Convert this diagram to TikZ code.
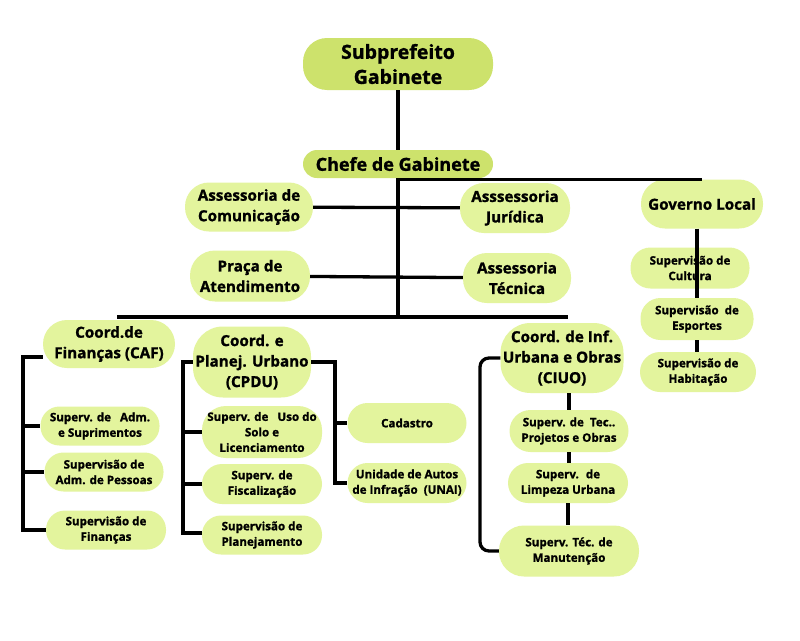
\documentclass[tikz,border=0pt]{standalone}
\usepackage{fontspec}
\setmainfont{Open Sans}[BoldFeatures={FakeBold=1.2}]
\begin{document}
\begin{tikzpicture}[x=1pt,y=-1pt,
  every node/.style={font=\bfseries},
  box/.style={fill=lightg, rounded corners=19pt, align=center, inner sep=0pt, text=black},
  dbox/.style={box, fill=darkg},
  big/.style={font=\bfseries\fontsize{19.5}{25}\selectfont},
  mid/.style={font=\bfseries\fontsize{15.2}{20.5}\selectfont},
  sml/.style={font=\bfseries\fontsize{11.6}{15.5}\selectfont},
  con/.style={line width=3.3pt, black}]
\definecolor{lightg}{RGB}{227,244,157}
\definecolor{darkg}{RGB}{205,226,108}
\useasboundingbox[fill=white] (0,0) rectangle (800,640);

% top
\node[dbox, big, minimum width=190pt, minimum height=52pt, rounded corners=24pt] (sub) at (398,64) {Subprefeito\\Gabinete};
\node[dbox, font=\bfseries\fontsize{18}{22}\selectfont, minimum width=190pt, minimum height=28pt, rounded corners=14pt] (chefe) at (398,164) {Chefe de Gabinete};

\node[box, mid, minimum width=128pt, minimum height=49pt, rounded corners=24pt] (acom) at (249,207) {Assessoria de\\Comunicação};
\node[box, mid, minimum width=110pt, minimum height=50pt, rounded corners=24pt] (ajur) at (515,208) {Asssessoria\\Jurídica};
\node[box, mid, minimum width=120pt, minimum height=51pt, rounded corners=25pt] (praca) at (250,276) {Praça de\\Atendimento};
\node[box, mid, minimum width=108pt, minimum height=50pt, rounded corners=24pt] (atec) at (517,278) {Assessoria\\Técnica};

\node[box, mid, minimum width=122pt, minimum height=49pt, rounded corners=24pt] (gov) at (702,204) {Governo Local};
\node[box, sml, minimum width=119pt, minimum height=41pt, rounded corners=20pt] (cult) at (690,268) {Supervisão de\\Cultura};
\node[box, sml, minimum width=113pt, minimum height=42pt, rounded corners=20pt] (esp) at (697,319) {Supervisão \ de\\Esportes};
\node[box, sml, minimum width=116pt, minimum height=40pt, rounded corners=20pt] (hab) at (698,372) {Supervisão de\\Habitação};

% left column
\node[box, mid, minimum width=132pt, minimum height=48pt, rounded corners=24pt] (caf) at (109,344) {Coord.de\\Finanças (CAF)};
\node[box, sml, minimum width=119pt, minimum height=39pt, rounded corners=19pt] (sadm) at (100,426) {Superv. de \ \ Adm.\\e Suprimentos};
\node[box, sml, minimum width=119pt, minimum height=39pt, rounded corners=19pt] (spes) at (104,472) {Supervisão de\\Adm. de Pessoas};
\node[box, sml, minimum width=120pt, minimum height=39pt, rounded corners=19pt] (sfin) at (106,530) {Supervisão de\\Finanças};

% CPDU
\node[box, mid, minimum width=118pt, minimum height=71pt, rounded corners=30pt] (cpdu) at (252,362) {Coord. e\\Planej. Urbano\\(CPDU)};
\node[box, sml, minimum width=120pt, minimum height=52pt, rounded corners=24pt] (uso) at (262,432) {Superv. de \ \ Uso do\\Solo e\\Licenciamento};
\node[box, sml, minimum width=120pt, minimum height=40pt, rounded corners=20pt] (fisc) at (262,484) {Superv. de\\Fiscalização};
\node[box, sml, minimum width=120pt, minimum height=39pt, rounded corners=19pt] (plan) at (262,535) {Supervisão de\\Planejamento};
\node[box, sml, minimum width=119pt, minimum height=40pt, rounded corners=20pt] (cad) at (407,423) {Cadastro};
\node[box, sml, minimum width=119pt, minimum height=40pt, rounded corners=20pt] (unai) at (407,483) {Unidade de Autos\\de Infração \ (UNAI)};

% CIUO
\node[box, mid, minimum width=123pt, minimum height=70pt, rounded corners=30pt] (ciuo) at (562,358) {Coord. de Inf.\\Urbana e Obras\\(CIUO)};
\node[box, sml, minimum width=119pt, minimum height=42pt, rounded corners=21pt] (tec) at (569,431) {Superv. de \ Tec..\\Projetos e Obras};
\node[box, sml, minimum width=120pt, minimum height=40pt, rounded corners=20pt] (limp) at (568,483) {Superv. \ de\\Limpeza Urbana};
\node[box, sml, minimum width=140pt, minimum height=51pt, rounded corners=25pt] (manut) at (569,551) {Superv. Téc. de\\Manutenção};

% connectors
\coordinate (busL) at (117,317);
\coordinate (busR) at (568,317);
\draw[con] (sub) -- (chefe);
\draw[con] (chefe.south) -- (chefe.south |- busL);
\draw[con] ([yshift=-1pt]chefe.south) -- ([yshift=-1pt]chefe.south -| gov.north);
\draw[con] (busL) -- (busR);
\draw[con] (acom) -- (ajur);
\draw[con] (praca) -- (atec);

\draw[con] (esp.north |- gov.south) -- (esp.north);
\draw[con] (esp.south) -- (esp.south |- hab.north);

\coordinate (lb) at (23,357);
\draw[con] ([yshift=-13pt]caf.west) -- (lb) |- (sfin.west);
\draw[con] (lb |- sadm.west) -- (sadm.west);
\draw[con] (lb |- spes.west) -- (spes.west);

\coordinate (cb) at (183,362);
\draw[con] (cpdu.west) -- (cb) |- ([yshift=2pt]plan.west);
\draw[con] (cb |- uso.west) -- (uso.west);
\draw[con] (cb |- fisc.west) -- (fisc.west);

\coordinate (rb) at (335,362);
\draw[con] (cpdu.east) -- (rb) |- (unai.west);
\draw[con] (rb |- cad.west) -- (cad.west);

\draw[con, rounded corners=9pt] (ciuo.west) -- (480,358) |- (manut.west);
\draw[con] (tec.north |- ciuo.south) -- (tec.north);
\draw[con] (tec.south) -- (tec.south |- limp.north);
\draw[con] (limp.south) -- (limp.south |- manut.north);
\end{tikzpicture}
\end{document}
